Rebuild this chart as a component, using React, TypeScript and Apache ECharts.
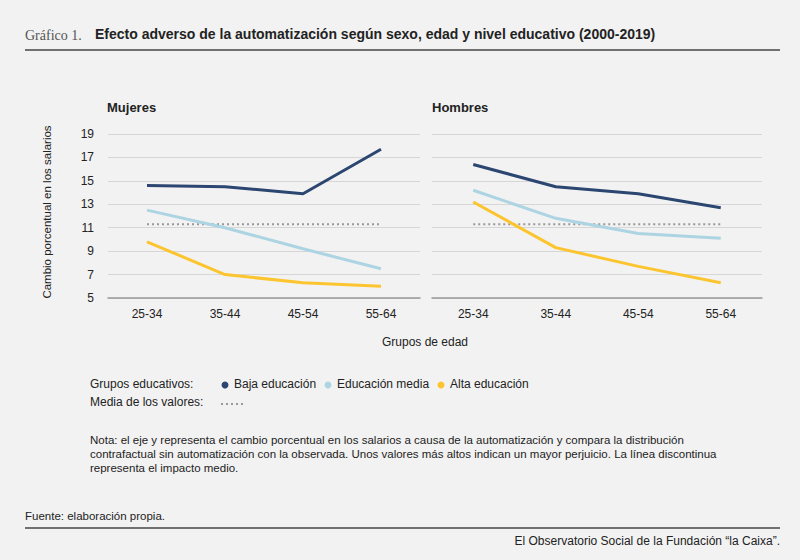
import React, { useEffect, useRef } from "react";
import * as echarts from "echarts";

const categories = ["25-34", "35-44", "45-54", "55-64"];
const yTicks = [5, 7, 9, 11, 13, 15, 17, 19];
const mujeresBaja = [14.6, 14.5, 13.9, 17.7];
const mujeresMedia = [12.5, 11.0, 9.2, 7.5];
const mujeresAlta = [9.8, 7.0, 6.3, 6.0];
const hombresBaja = [16.4, 14.5, 13.9, 12.7];
const hombresMedia = [14.2, 11.8, 10.5, 10.1];
const hombresAlta = [13.2, 9.3, 7.7, 6.3];
const media = [11.3, 11.3, 11.3, 11.3];

const C_BAJA = "#2b4670";
const C_MEDIA = "#add4e2";
const C_ALTA = "#fcc52f";
const C_MEAN = "#999999";
const FONT = "Liberation Sans";

export default function App() {
  const ref = useRef<HTMLDivElement>(null);
  useEffect(() => {
    const chart = echarts.init(ref.current!, null, { renderer: "svg" });
    const line = (name: string, data: number[], color: string, idx: number, dotted = false) => ({
      type: "line", name, data, xAxisIndex: idx, yAxisIndex: idx, symbol: "none",
      lineStyle: { color, width: dotted ? 2 : 3, type: dotted ? [2, 3] : "solid" },
      z: dotted ? 1 : 3,
    });
    const xAxis = (gi: number) => ({
      type: "category", gridIndex: gi, data: categories, boundaryGap: true,
      axisLine: { lineStyle: { color: "#999", width: 1.5 } },
      axisTick: { alignWithLabel: true, lineStyle: { color: "#999" } },
      axisLabel: { color: "#222", fontSize: 12, fontFamily: FONT, margin: 10 },
    });
    const yAxis = (gi: number) => ({
      type: "value", gridIndex: gi, min: 5, max: 19, interval: 2,
      axisLine: { show: false }, axisTick: { show: false },
      axisLabel: { show: gi === 0, color: "#222", fontSize: 12, fontFamily: FONT, margin: 14,
        formatter: (v: number) => (yTicks.includes(v) ? String(v) : "") },
      splitLine: { lineStyle: { color: "#d6d6d6", width: 1 } },
    });
    const txt = (x: number, y: number, text: string, extra: any = {}) => ({
      type: "text", x, y, style: { text, fill: "#222", fontSize: 12, fontFamily: FONT, ...extra },
    });
    const legendItems: [number, string, string][] = [
      [228, "Baja educación", C_BAJA],
      [331, "Educación media", C_MEDIA],
      [444, "Alta educación", C_ALTA],
    ];
    chart.setOption({
      animation: false,
      backgroundColor: "#f2f2f2",
      grid: [
        { left: 108, top: 134, width: 312, height: 164 },
        { left: 432, top: 134, width: 330, height: 164 },
      ],
      xAxis: [xAxis(0), xAxis(1)],
      yAxis: [yAxis(0), yAxis(1)],
      series: [
        line("Media", media, C_MEAN, 0, true),
        line("Baja educación", mujeresBaja, C_BAJA, 0),
        line("Educación media", mujeresMedia, C_MEDIA, 0),
        line("Alta educación", mujeresAlta, C_ALTA, 0),
        line("Media", media, C_MEAN, 1, true),
        line("Baja educación", hombresBaja, C_BAJA, 1),
        line("Educación media", hombresMedia, C_MEDIA, 1),
        line("Alta educación", hombresAlta, C_ALTA, 1),
      ],
      graphic: [
        txt(25, 28, "Gráfico 1.", { fontFamily: "Liberation Serif", fontSize: 14, fill: "#555" }),
        txt(95, 27, "Efecto adverso de la automatización según sexo, edad y nivel educativo (2000-2019)", { fontSize: 14, fontWeight: "bold", fill: "#222" }),
        { type: "line", shape: { x1: 25, y1: 50, x2: 780, y2: 50 }, style: { stroke: "#444", lineWidth: 1.5 } },
        txt(107, 101, "Mujeres", { fontWeight: "bold", fontSize: 13 }),
        txt(432, 101, "Hombres", { fontWeight: "bold", fontSize: 13 }),
        { type: "text", x: 47, y: 212, rotation: Math.PI / 2, style: { text: "Cambio porcentual en los salarios", fill: "#222", fontSize: 11.5, fontFamily: FONT, align: "center", verticalAlign: "middle" } },
        txt(425, 336, "Grupos de edad", { align: "center" }),
        txt(90, 378, "Grupos educativos:"),
        ...legendItems.flatMap(([x, label, color]) => [
          { type: "circle", shape: { cx: x - 3, cy: 385, r: 3.5 }, style: { fill: color } },
          txt(x + 6, 378, label),
        ]),
        txt(90, 396, "Media de los valores:"),
        { type: "line", shape: { x1: 221, y1: 404, x2: 244, y2: 404 }, style: { stroke: C_MEAN, lineWidth: 2, lineDash: [2, 3] } },
        txt(90, 433, "Nota: el eje y representa el cambio porcentual en los salarios a causa de la automatización y compara la distribución\ncontrafactual sin automatización con la observada. Unos valores más altos indican un mayor perjuicio. La línea discontinua\nrepresenta el impacto medio.", { fontSize: 11.5, lineHeight: 14 }),
        txt(25, 510, "Fuente: elaboración propia.", { fontSize: 11.5 }),
        { type: "line", shape: { x1: 25, y1: 528, x2: 780, y2: 528 }, style: { stroke: "#444", lineWidth: 1.5 } },
        txt(780, 535, "El Observatorio Social de la Fundación “la Caixa”.", { align: "right", fontSize: 12 }),
      ],
    });
    return () => chart.dispose();
  }, []);
  return <div ref={ref} style={{ position: "fixed", left: 0, top: 0, width: 800, height: 560 }} />;
}
